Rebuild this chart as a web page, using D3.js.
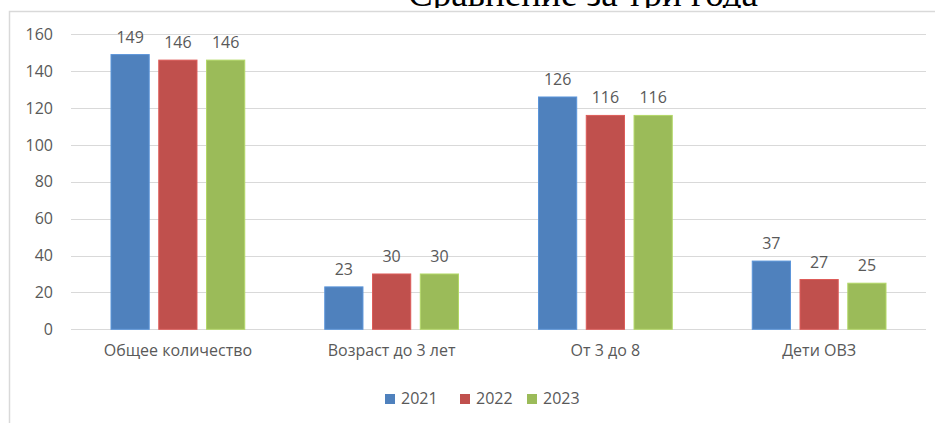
<!DOCTYPE html>
<html>
<head>
<meta charset="utf-8">
<script src="https://cdn.jsdelivr.net/npm/d3@7"></script>
<style>
  body { margin: 0; background: #fff; }
  text { font-family: "Open Sans", "Noto Sans", sans-serif; fill: #595959; }
</style>
</head>
<body>
<script>
var categories = ["Общее количество", "Возраст до 3 лет", "От 3 до 8", "Дети ОВЗ"];
var years = ["2021", "2022", "2023"];
var values2021 = [149, 23, 126, 37];
var values2022 = [146, 30, 116, 27];
var values2023 = [146, 30, 116, 25];
var yTicks = [0, 20, 40, 60, 80, 100, 120, 140, 160];
var colors = ["#4f81bd", "#c0504d", "#9bbb59"];
var title = "Сравнение за три года";

var WIDTH = 935, HEIGHT = 423;
var PLOT_LEFT = 71, PLOT_RIGHT = 926, PLOT_TOP = 34.3, PLOT_BOTTOM = 329.3;

var series = [values2021, values2022, values2023];

var svg = d3.select("body").append("svg")
    .attr("width", WIDTH)
    .attr("height", HEIGHT);

// title from the document above, mostly cut off
svg.append("text")
    .attr("x", 408)
    .attr("y", 6)
    .style("font-family", "'Liberation Serif', 'Times New Roman', serif")
    .style("font-size", "37px")
    .style("fill", "#000")
    .text(title);

// chart area
svg.append("rect")
    .attr("x", 9).attr("y", 8)
    .attr("width", WIDTH).attr("height", HEIGHT)
    .attr("fill", "#fff");
svg.append("path")
    .attr("d", "M9.5," + HEIGHT + "V11.5H" + WIDTH)
    .attr("fill", "none")
    .attr("stroke", "#d9d9d9")
    .attr("stroke-width", 1.5);

var y = d3.scaleLinear()
    .domain([0, 160])
    .range([PLOT_BOTTOM, PLOT_TOP]);

var x0 = d3.scaleBand()
    .domain(categories)
    .range([PLOT_LEFT, PLOT_RIGHT]);

var x1 = d3.scaleBand()
    .domain(years)
    .range([40, x0.bandwidth() - 40])
    .paddingInner(0.2);

// gridlines
svg.append("g").selectAll("line")
    .data(yTicks)
    .enter().append("line")
    .attr("x1", PLOT_LEFT).attr("x2", PLOT_RIGHT)
    .attr("y1", function (d) { return Math.round(y(d)) + 0.5; })
    .attr("y2", function (d) { return Math.round(y(d)) + 0.5; })
    .attr("stroke", "#d9d9d9")
    .attr("stroke-width", 1);

// y axis labels
var yAxis = d3.axisLeft(y).tickValues(yTicks).tickSize(0).tickPadding(0);
var yg = svg.append("g")
    .attr("transform", "translate(53,0)")
    .call(yAxis);
yg.select(".domain").remove();
yg.selectAll("text")
    .style("font-size", "16px")
    .style("fill", "#595959")
    .style("font-family", "'Open Sans', sans-serif");

// bars
var groups = svg.append("g").selectAll("g")
    .data(categories)
    .enter().append("g")
    .attr("transform", function (c) { return "translate(" + x0(c) + ",0)"; });

groups.each(function (c, ci) {
  var g = d3.select(this);
  years.forEach(function (yr, si) {
    var v = series[si][ci];
    g.append("rect")
      .attr("x", x1(yr))
      .attr("y", y(v))
      .attr("width", x1.bandwidth())
      .attr("height", y(0) - y(v))
      .attr("fill", colors[si])
      .attr("stroke", d3.color(colors[si]).brighter(0.4))
      .attr("stroke-width", 1);
    g.append("text")
      .attr("x", x1(yr) + x1.bandwidth() / 2)
      .attr("y", y(v) - 12)
      .attr("text-anchor", "middle")
      .style("font-size", "16px")
      .text(v);
  });
});

// category labels
var xAxis = d3.axisBottom(x0).tickSize(0).tickPadding(0);
var xg = svg.append("g")
    .attr("transform", "translate(0," + 345 + ")")
    .call(xAxis);
xg.select(".domain").remove();
xg.selectAll("text")
    .style("font-size", "16px")
    .style("fill", "#595959")
    .style("font-family", "'Open Sans', sans-serif");

// legend
var legendX = [385, 460, 527];
var legend = svg.append("g").selectAll("g")
    .data(years)
    .enter().append("g")
    .attr("transform", function (d, i) { return "translate(" + legendX[i] + ",394)"; });
legend.append("rect")
    .attr("width", 10).attr("height", 10)
    .attr("fill", function (d, i) { return colors[i]; });
legend.append("text")
    .attr("x", 16)
    .attr("y", 10)
    .style("font-size", "16px")
    .text(function (d) { return d; });
</script>
</body>
</html>
